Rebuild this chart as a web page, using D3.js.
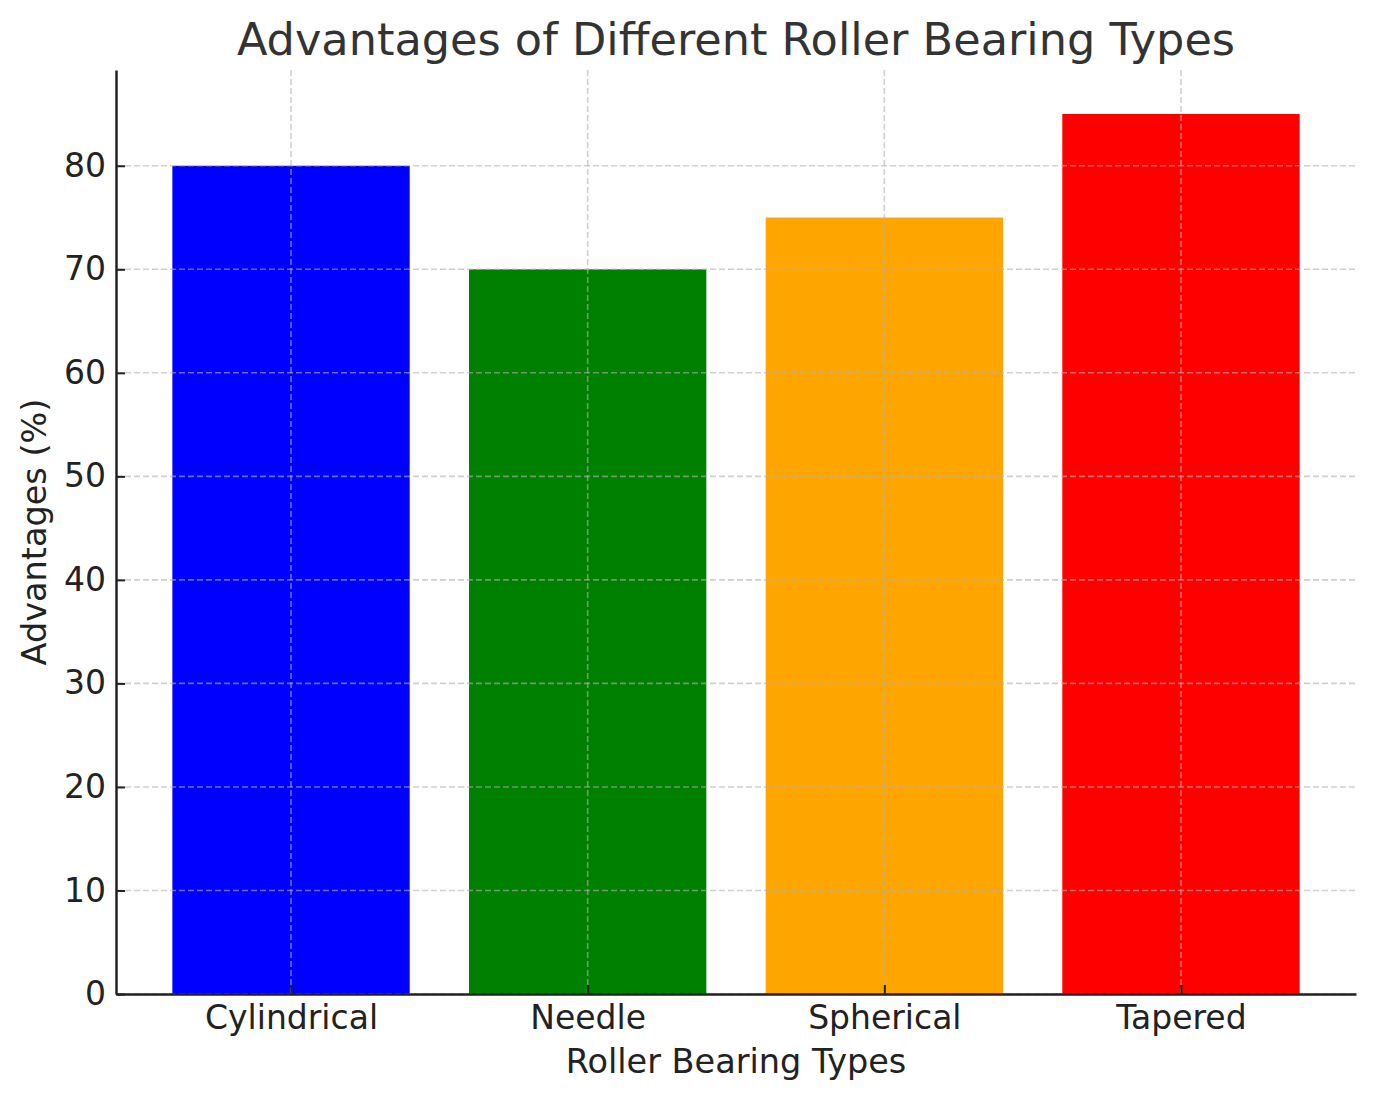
<!DOCTYPE html>
<html>
<head>
<meta charset="utf-8">
<script src="https://cdn.jsdelivr.net/npm/d3@7"></script>
<style>
  body { margin: 0; background: #fff; }
  svg { display: block; }
</style>
</head>
<body>
<div id="chart"></div>
<script>
// Chart data
const bearing_types = ["Cylindrical", "Needle", "Spherical", "Tapered"];
const advantages = [80, 70, 75, 85];
const bar_colors = ["blue", "green", "orange", "red"];
const y_ticks = [0, 10, 20, 30, 40, 50, 60, 70, 80];

function drawBarChart() {
    const width = 1376;
    const height = 1101;
    const margin = {top: 70, right: 20, bottom: 107, left: 116};
    const tick_font = 33;
    const label_font = 33.5;
    const grid_color = "#b0b0b0";

    const svg = d3.select("#chart")
        .append("svg")
        .attr("width", width)
        .attr("height", height)
        .style("font-family", "'DejaVu Sans', sans-serif");

    // x is a linear index scale, the same way matplotlib pads its bars
    const n = bearing_types.length;
    const x = d3.scaleLinear()
        .domain([-0.4 - 0.05 * (n - 0.2), n - 0.6 + 0.05 * (n - 0.2)])
        .range([margin.left, width - margin.right]);
    const y = d3.scaleLinear()
        .domain([0, d3.max(advantages) * 1.05])
        .range([height - margin.bottom, margin.top]);
    const bar_width = x(0.8) - x(0);

    // Bars
    svg.append("g")
        .selectAll("rect")
        .data(advantages)
        .join("rect")
        .attr("x", (d, i) => x(i) - bar_width / 2)
        .attr("y", d => y(d))
        .attr("width", bar_width)
        .attr("height", d => y(0) - y(d))
        .attr("fill", (d, i) => bar_colors[i]);

    // Grid lines (drawn over the bars)
    const grid = svg.append("g")
        .attr("stroke", grid_color)
        .attr("stroke-opacity", 0.6)
        .attr("stroke-width", 1.6)
        .attr("stroke-dasharray", "6,3");
    grid.selectAll(".hgrid")
        .data(y_ticks)
        .join("line")
        .attr("class", "hgrid")
        .attr("x1", margin.left)
        .attr("x2", width - margin.right)
        .attr("y1", d => y(d))
        .attr("y2", d => y(d));
    grid.selectAll(".vgrid")
        .data(bearing_types)
        .join("line")
        .attr("class", "vgrid")
        .attr("x1", (d, i) => x(i))
        .attr("x2", (d, i) => x(i))
        .attr("y1", margin.top)
        .attr("y2", height - margin.bottom);

    // Y axis
    const yAxis = d3.axisLeft(y)
        .tickValues(y_ticks)
        .tickSizeInner(-9)
        .tickSizeOuter(0)
        .tickPadding(10);
    const gy = svg.append("g")
        .attr("transform", `translate(${margin.left},0)`)
        .call(yAxis);
    gy.select(".domain").attr("stroke", "#222").attr("stroke-width", 2.5);
    gy.selectAll(".tick line").attr("stroke", "#222").attr("stroke-width", 2);
    gy.selectAll(".tick text")
        .attr("fill", "#222")
        .style("font-size", tick_font + "px")
        .style("font-family", "'DejaVu Sans', sans-serif");

    // X axis
    const xAxis = d3.axisBottom(x)
        .tickValues(d3.range(n))
        .tickFormat(i => bearing_types[i])
        .tickSizeInner(-9)
        .tickSizeOuter(0)
        .tickPadding(12);
    const gx = svg.append("g")
        .attr("transform", `translate(0,${height - margin.bottom})`)
        .call(xAxis);
    gx.select(".domain").attr("stroke", "#222").attr("stroke-width", 2.5);
    gx.selectAll(".tick line").attr("stroke", "#222").attr("stroke-width", 2);
    gx.selectAll(".tick text")
        .attr("fill", "#222")
        .style("font-size", tick_font + "px")
        .style("font-family", "'DejaVu Sans', sans-serif");

    // Labels
    const cx = (margin.left + width - margin.right) / 2;
    svg.append("text")
        .attr("x", cx)
        .attr("y", 55)
        .attr("text-anchor", "middle")
        .attr("fill", "#333")
        .style("font-size", "44.6px")
        .text("Advantages of Different Roller Bearing Types");
    svg.append("text")
        .attr("x", cx)
        .attr("y", 1073)
        .attr("text-anchor", "middle")
        .attr("fill", "#222")
        .style("font-size", label_font + "px")
        .text("Roller Bearing Types");
    svg.append("text")
        .attr("transform", `translate(46,${(margin.top + height - margin.bottom) / 2}) rotate(-90)`)
        .attr("text-anchor", "middle")
        .attr("fill", "#222")
        .style("font-size", label_font + "px")
        .text("Advantages (%)");
}

drawBarChart();
</script>
</body>
</html>
